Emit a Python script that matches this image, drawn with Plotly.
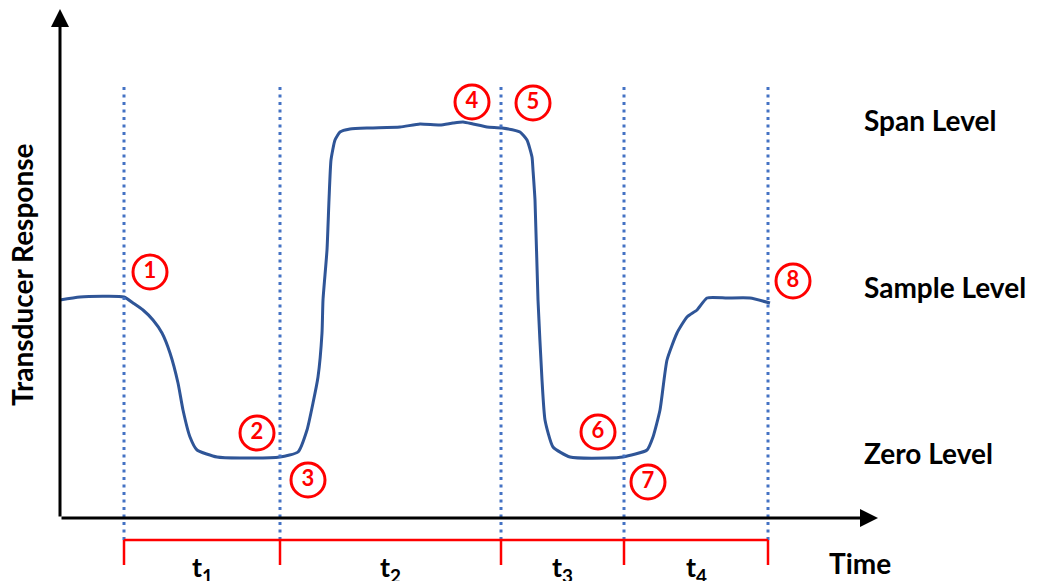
import plotly.graph_objects as go

# transducer trace, time vs response (arbitrary units)
curve_time = [0, 20, 64, 73, 83, 93, 102, 110, 118, 123, 130, 137, 157, 180, 220, 238, 247, 253,
              258, 262, 263, 267, 269, 271, 275, 280, 290, 310, 340, 360, 380, 393, 403, 413,
              427, 442, 460, 467, 472, 473, 475, 478, 482, 485, 493, 510, 547, 563, 587, 593,
              600, 607, 617, 627, 637, 647, 667, 690, 710]
curve_response = [218, 221, 221, 215, 208, 198, 185, 165, 135, 108, 81, 68, 61, 60, 61, 66, 88, 115,
                  141, 185, 218, 268, 318, 358, 378, 386, 389, 390, 391, 394, 393, 395, 396, 394,
                  391, 390, 386, 378, 361, 348, 318, 218, 138, 98, 71, 61, 60, 61, 68, 81,
                  108, 158, 185, 201, 208, 220, 220, 220, 215]

event_times = [64, 220, 441, 564, 708]
period_labels = ["t<sub>1</sub>", "t<sub>2</sub>", "t<sub>3</sub>", "t<sub>4</sub>"]

point_labels = ["1", "2", "3", "4", "5", "6", "7", "8"]
point_time = [90, 197, 248, 412, 473, 538, 588, 733]
point_response = [246, 85, 38, 416, 415, 86, 36, 237]

level_names = ["Span Level", "Sample Level", "Zero Level"]
level_response = [398, 231, 65]

RED = "#FF0000"
BLUE_DOT = "#4472C4"
CURVE = "#2F5597"
FONT = "Lato"

fig = go.Figure()

# dotted event markers
for t in event_times:
    fig.add_shape(type="line", x0=t, x1=t, y0=-22, y1=433, xref="x", yref="y",
                  line=dict(color=BLUE_DOT, width=3, dash="3px,4.5px"))

# red period bracket
fig.add_shape(type="line", x0=event_times[0], x1=event_times[-1], y0=-22, y1=-22,
              line=dict(color=RED, width=2.5))
for t in event_times:
    fig.add_shape(type="line", x0=t, x1=t, y0=-22, y1=-47, line=dict(color=RED, width=2.5))

fig.add_trace(go.Scatter(x=curve_time, y=curve_response, mode="lines",
                         line=dict(color=CURVE, width=3, shape="spline", smoothing=0.5),
                         hoverinfo="skip"))

fig.add_trace(go.Scatter(
    x=point_time, y=point_response, mode="markers+text", text=point_labels,
    textposition="middle center",
    textfont=dict(family=FONT, size=22, color=RED, weight="bold"),
    marker=dict(size=34, color="white", line=dict(color=RED, width=3)),
    hoverinfo="skip"))

# axes with arrowheads
fig.add_annotation(x=0, y=509, ax=0, ay=0, xref="x", yref="y", axref="x", ayref="y",
                   showarrow=True, arrowhead=2, arrowsize=1.2, arrowwidth=3,
                   arrowcolor="black", text="", standoff=0, startstandoff=0)
fig.add_annotation(x=818, y=0, ax=0, ay=0, xref="x", yref="y", axref="x", ayref="y",
                   showarrow=True, arrowhead=2, arrowsize=1.2, arrowwidth=3,
                   arrowcolor="black", text="", standoff=0, startstandoff=0)

for i, lab in enumerate(period_labels):
    mid = (event_times[i] + event_times[i + 1]) / 2
    fig.add_annotation(x=mid, y=-50, text=lab, showarrow=False,
                       font=dict(family=FONT, size=27, color="black", weight="bold"))

for name, r in zip(level_names, level_response):
    fig.add_annotation(x=802, y=r, text=name, showarrow=False, xanchor="left",
                       font=dict(family=FONT, size=28, color="black", weight="bold"))

fig.add_annotation(x=800, y=-45, text="Time", showarrow=False,
                   font=dict(family=FONT, size=28, color="black", weight="bold"))
fig.add_annotation(x=-38, y=243, text="Transducer Response", showarrow=False, textangle=-90,
                   font=dict(family=FONT, size=28, color="black", weight="bold"))

# page body adds an 8px offset, so the figure is sized to fit inside it
fig.update_layout(
    width=1032, height=573,
    margin=dict(l=0, r=0, t=0, b=0),
    paper_bgcolor="white", plot_bgcolor="white",
    showlegend=False,
)
fig.update_xaxes(range=[-52, 980], visible=False)
fig.update_yaxes(range=[-63, 510], visible=False)

fig.write_html("out.html")
